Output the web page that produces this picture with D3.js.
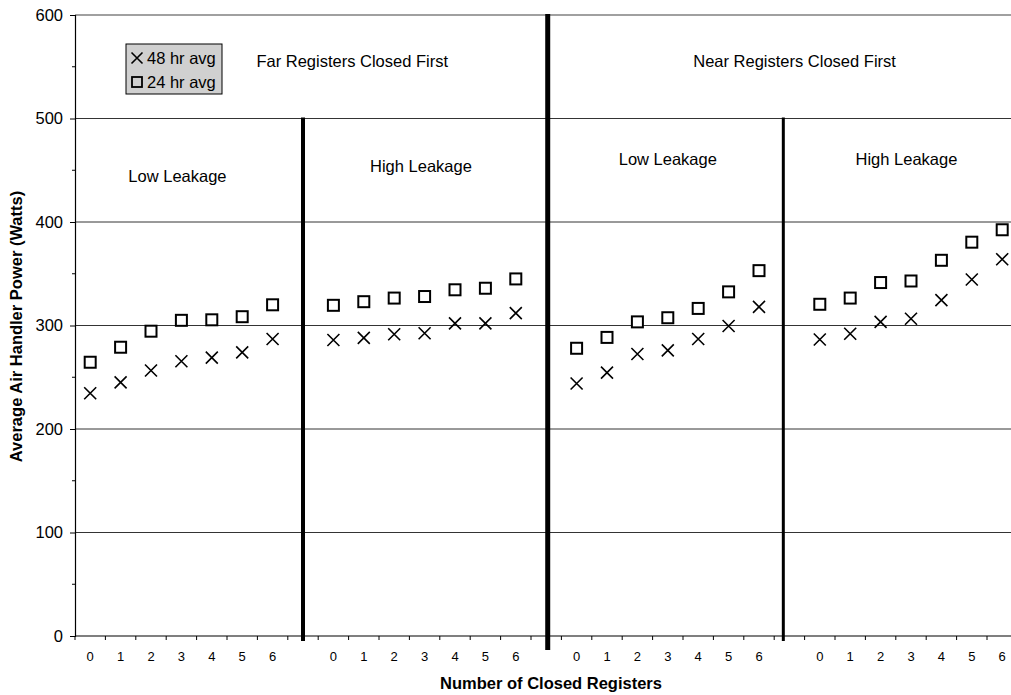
<!DOCTYPE html>
<html>
<head>
<meta charset="utf-8">
<script src="https://cdn.jsdelivr.net/npm/d3@7"></script>
<style>
  html, body { margin: 0; padding: 0; background: #fff; }
  svg { display: block; font-family: "Liberation Sans", Arial, sans-serif; }
</style>
</head>
<body>
<svg id="chart" width="1011" height="695"></svg>
<script>
// ---------- data ----------
const categories = ["0","1","2","3","4","5","6","",
                    "0","1","2","3","4","5","6","",
                    "0","1","2","3","4","5","6","",
                    "0","1","2","3","4","5","6"];
const avg48 = [234.5, 245, 256.5, 265.5, 269, 274, 287, null,
               286, 288, 291.5, 292.5, 302, 302, 312, null,
               244, 254.5, 272.5, 276, 287, 299.5, 318, null,
               286.5, 292, 303.5, 306.5, 324.5, 344.5, 364];
const avg24 = [264.5, 279, 294.5, 305, 305.5, 308.5, 320, null,
               319.5, 323, 326.5, 328, 334.5, 336, 345, null,
               278, 288.5, 303.5, 307.5, 316.5, 332.5, 353, null,
               320.5, 326.5, 341.5, 343, 363, 380.5, 392.5];
const yTicks = [0, 100, 200, 300, 400, 500, 600];
const seriesNames = ["48 hr avg", "24 hr avg"];
// dividers: position in category units, top value
const dividerAt = [7, 15.05, 22.8];
const dividerTop = [500, 600, 500];
const sectionLabels = ["Far Registers Closed First", "Near Registers Closed First"];
const sectionLabelAt = [8.62, 23.17];
const subLabels = ["Low Leakage", "High Leakage", "Low Leakage", "High Leakage"];
const subLabelAt = [2.87, 10.88, 19.0, 26.85];
const subLabelVal = [439, 448, 455, 455];

// ---------- layout ----------
const svg = d3.select("#chart");
const pLeft = 75, pTop = 15, pBottom = 636;
const step = 30.4;
const pRight = pLeft + step * categories.length;

const x = d3.scaleBand().domain(d3.range(categories.length)).range([pLeft, pRight]).padding(0);
const xPos = v => pLeft + (v + 0.5) * step;
const y = d3.scaleLinear().domain([0, 600]).range([pBottom, pTop]);

// gridlines
svg.append("g").selectAll("line").data(yTicks.filter(t => t > 0))
  .join("line")
  .attr("x1", pLeft).attr("x2", pRight)
  .attr("y1", d => y(d)).attr("y2", d => y(d))
  .attr("stroke", d => d === 600 ? "#808080" : "#000")
  .attr("stroke-width", d => d === 600 ? 1.5 : 0.8);

// y axis
const yAxis = svg.append("g").attr("transform", `translate(${pLeft},0)`)
  .call(d3.axisLeft(y).tickValues(yTicks).tickSize(5).tickPadding(7));
yAxis.select(".domain").attr("stroke", "#000").attr("stroke-width", 1.2);
yAxis.selectAll(".tick line").attr("stroke", "#000");
yAxis.selectAll("text").attr("font-size", "16.5px").attr("fill", "#000")
  .attr("font-family", '"Liberation Sans", Arial, sans-serif');
// minor y ticks
svg.append("g").selectAll("line").data(d3.range(50, 600, 100))
  .join("line")
  .attr("x1", pLeft - 3).attr("x2", pLeft)
  .attr("y1", d => y(d)).attr("y2", d => y(d))
  .attr("stroke", "#000");

// x axis line
svg.append("line").attr("x1", pLeft).attr("x2", pRight)
  .attr("y1", pBottom).attr("y2", pBottom).attr("stroke", "#000").attr("stroke-width", 1.2);
// boundary ticks
svg.append("g").selectAll("line").data(d3.range(categories.length + 1))
  .join("line")
  .attr("x1", d => pLeft + d * step).attr("x2", d => pLeft + d * step)
  .attr("y1", pBottom).attr("y2", pBottom + 4)
  .attr("stroke", "#000");
// x tick labels
const xAxis = svg.append("g").attr("transform", `translate(0,${pBottom})`)
  .call(d3.axisBottom(x).tickFormat(i => categories[i]).tickSize(0).tickPadding(16));
xAxis.select(".domain").remove();
xAxis.selectAll("text").attr("font-size", "13px").attr("fill", "#000")
  .attr("font-family", '"Liberation Sans", Arial, sans-serif');

// dividers
svg.append("g").selectAll("line").data(dividerAt)
  .join("line")
  .attr("x1", d => xPos(d)).attr("x2", d => xPos(d))
  .attr("y1", (d, i) => y(dividerTop[i]) - 1)
  .attr("y2", (d, i) => i === 1 ? pBottom + 14 : pBottom + 5)
  .attr("stroke", "#000")
  .attr("stroke-width", (d, i) => [4, 5, 3][i]);

// markers: 48 hr (X)
const xs = 6;
svg.append("g").selectAll("path")
  .data(avg48.map((v, i) => ({ v, i })).filter(d => d.v != null))
  .join("path")
  .attr("d", d => {
    const cx = x(d.i) + x.bandwidth() / 2, cy = y(d.v);
    return `M${cx - xs},${cy - xs}L${cx + xs},${cy + xs}M${cx - xs},${cy + xs}L${cx + xs},${cy - xs}`;
  })
  .attr("stroke", "#000").attr("stroke-width", 1.6).attr("fill", "none");

// markers: 24 hr (square)
const sq = 5.5;
svg.append("g").selectAll("rect")
  .data(avg24.map((v, i) => ({ v, i })).filter(d => d.v != null))
  .join("rect")
  .attr("x", d => x(d.i) + x.bandwidth() / 2 - sq)
  .attr("y", d => y(d.v) - sq)
  .attr("width", sq * 2).attr("height", sq * 2)
  .attr("fill", "#fff").attr("stroke", "#000").attr("stroke-width", 2);

// section labels
svg.append("g").selectAll("text").data(sectionLabels)
  .join("text")
  .attr("x", (d, i) => xPos(sectionLabelAt[i]))
  .attr("y", 67)
  .attr("text-anchor", "middle").attr("font-size", "16.5px").attr("fill", "#000")
  .text(d => d);
svg.append("g").selectAll("text").data(subLabels)
  .join("text")
  .attr("x", (d, i) => xPos(subLabelAt[i]))
  .attr("y", (d, i) => y(subLabelVal[i]))
  .attr("text-anchor", "middle").attr("font-size", "16.5px").attr("fill", "#000")
  .text(d => d);

// legend
const lg = svg.append("g").attr("transform", "translate(126,44)");
lg.append("rect").attr("width", 96).attr("height", 50)
  .attr("fill", "#d0d0d0").attr("stroke", "#000").attr("stroke-width", 1);
const lx = 11, ly1 = 14, ly2 = 38, s = 5.5;
lg.append("path")
  .attr("d", `M${lx - s},${ly1 - s}L${lx + s},${ly1 + s}M${lx - s},${ly1 + s}L${lx + s},${ly1 - s}`)
  .attr("stroke", "#000").attr("stroke-width", 1.6);
lg.append("rect").attr("x", lx - 5).attr("y", ly2 - 5).attr("width", 10).attr("height", 10)
  .attr("fill", "none").attr("stroke", "#000").attr("stroke-width", 1.8);
lg.selectAll("text.leg").data(seriesNames).join("text")
  .attr("class", "leg")
  .attr("x", 21).attr("y", (d, i) => [ly1, ly2][i] + 6)
  .attr("font-size", "16.5px").attr("fill", "#000")
  .text(d => d);

// axis titles
svg.append("text")
  .attr("x", (pLeft + 1011) / 2 + 8).attr("y", 689)
  .attr("text-anchor", "middle").attr("font-weight", "bold").attr("font-size", "16.5px")
  .text("Number of Closed Registers");
svg.append("text")
  .attr("transform", `translate(22,${(pTop + pBottom) / 2 + 1}) rotate(-90)`)
  .attr("text-anchor", "middle").attr("font-weight", "bold").attr("font-size", "16.5px")
  .text("Average Air Handler Power (Watts)");
</script>
</body>
</html>
